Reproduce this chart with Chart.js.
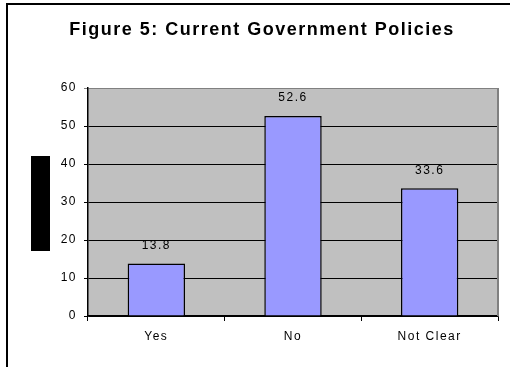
<!DOCTYPE html>
<html>
<head>
<meta charset="utf-8">
<script src="https://cdn.jsdelivr.net/npm/chart.js@4"></script>
<style>
  html, body { margin: 0; padding: 0; background: #fff; }
  #wrap { width: 510px; height: 367px; position: relative; }
</style>
</head>
<body>
<div id="wrap"><canvas id="barChart" width="510" height="367"></canvas></div>
<script>
var categories = ["Yes", "No", "Not Clear"];
var values = [13.8, 52.6, 33.6];
var yTicks = [0, 10, 20, 30, 40, 50, 60];
var chartTitle = 'Figure 5: Current Government Policies';

var FONT = '"Liberation Sans", Arial, sans-serif';

// plot background, frame, title, the blacked-out axis title and the value labels
var decorations = {
  id: 'decorations',
  beforeDraw: function(chart) {
    var ctx = chart.ctx, a = chart.chartArea;
    ctx.save();
    ctx.fillStyle = '#fff';
    ctx.fillRect(0, 0, chart.width, chart.height);
    ctx.fillStyle = '#C0C0C0';
    ctx.fillRect(a.left, a.top, a.right - a.left, a.bottom - a.top);
    // outer frame
    ctx.strokeStyle = '#000';
    ctx.lineWidth = 2;
    ctx.strokeRect(7, 4, chart.width + 20, chart.height + 20);
    // title
    ctx.letterSpacing = '1.5px';
    ctx.font = 'bold 18px ' + FONT;
    ctx.fillStyle = '#000';
    ctx.textAlign = 'center';
    ctx.textBaseline = 'middle';
    ctx.fillText(chartTitle, 262, 30);
    ctx.restore();
    // wide spacing for the tick labels too (excel look)
    ctx.letterSpacing = '1.5px';
  },
  afterDatasetsDraw: function(chart) {
    var ctx = chart.ctx, a = chart.chartArea;
    ctx.save();
    // right border of plot area
    ctx.strokeStyle = '#808080';
    ctx.lineWidth = 2;
    ctx.beginPath();
    ctx.moveTo(a.right, a.top);
    ctx.lineTo(a.right, a.bottom);
    ctx.stroke();
    // redacted axis title
    ctx.fillStyle = '#000';
    ctx.fillRect(a.left - 57, a.top + 68, 19, 95);
    // value labels
    ctx.letterSpacing = '1.5px';
    ctx.font = '12px ' + FONT;
    ctx.fillStyle = '#000';
    ctx.textAlign = 'center';
    ctx.textBaseline = 'middle';
    chart.getDatasetMeta(0).data.forEach(function(bar, i) {
      ctx.fillText(values[i].toFixed(1), bar.x, bar.y - 18);
    });
    ctx.restore();
  },
  afterDraw: function(chart) {
    chart.ctx.letterSpacing = '0px';
  }
};

var ctx = document.getElementById("barChart").getContext('2d');
var myChart = new Chart(ctx, {
  type: 'bar',
  plugins: [decorations],
  data: {
    labels: categories,
    datasets: [{
      data: values,
      backgroundColor: '#9999FF',
      borderColor: '#000',
      borderWidth: 1.5,
      barPercentage: 0.42,
      categoryPercentage: 1
    }]
  },
  options: {
    responsive: false,
    animation: false,
    layout: { padding: { left: 0, right: 12, top: 88, bottom: 0 } },
    plugins: {
      legend: { display: false },
      tooltip: { enabled: false },
      title: { display: false }
    },
    scales: {
      x: {
        afterFit: function(scale) { scale.height = 51; },
        grid: {
          offset: true,
          drawOnChartArea: false,
          drawTicks: true,
          tickLength: 5,
          color: '#000'
        },
        border: { color: '#000', width: 1.5 },
        ticks: {
          color: '#000',
          padding: 8,
          font: { family: FONT, size: 12 }
        }
      },
      y: {
        min: 0,
        max: 60,
        afterFit: function(scale) { scale.width = 88; },
        afterBuildTicks: function(scale) {
          scale.ticks = yTicks.map(function(v) { return { value: v }; });
        },
        grid: {
          color: function(c) { return c.tick && c.tick.value === 60 ? '#808080' : '#000'; },
          lineWidth: 1,
          tickLength: 4
        },
        border: { color: '#000', width: 1.5 },
        ticks: {
          color: '#000',
          padding: 7,
          font: { family: FONT, size: 12 }
        }
      }
    }
  }
});
</script>
</body>
</html>
